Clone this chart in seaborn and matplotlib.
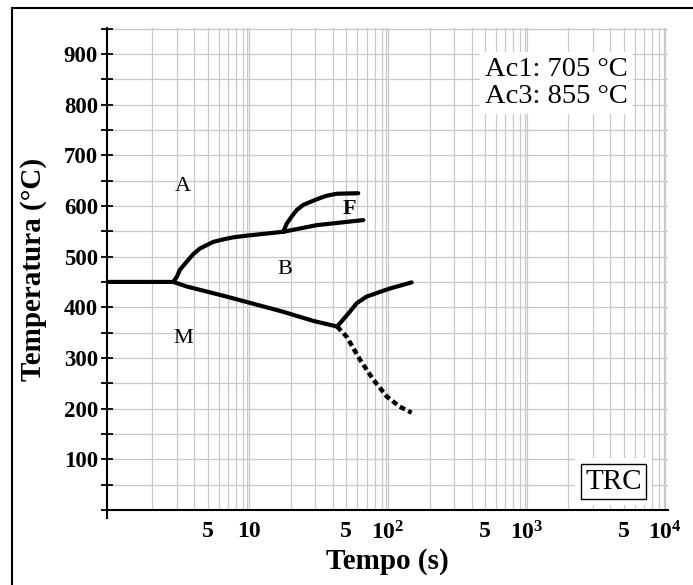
import numpy as np
import pandas as pd
import matplotlib
matplotlib.use("Agg")
import matplotlib.pyplot as plt
from matplotlib.ticker import FixedLocator, FixedFormatter, MultipleLocator, NullFormatter
from matplotlib.patches import Rectangle
import seaborn as sns

# ---------------- data ----------------
# bainite start (from the 450 plateau up to the ferrite split)
bs_t = [0.95, 2.83, 3.0, 3.16, 3.54, 3.95, 4.41, 5.5, 6.5, 7.67, 10.1, 11.9, 17.6]
bs_T = [450, 450, 460, 474, 490, 505, 516, 529, 534, 538, 542, 544, 549]
# ferrite lower branch
fl_t = [17.6, 30.6, 45.0, 66.4]
fl_T = [549, 562, 567, 572]
# ferrite upper branch
fu_t = [17.6, 18.6, 20.2, 22.0, 24.5, 30.6, 36.1, 42.7, 61.0]
fu_T = [549, 565, 579, 592, 602, 613, 620, 624, 625]
# lower (bainite / martensite boundary)
bm_t = [2.83, 3.54, 6.87, 10.0, 17.6, 29.0, 43.0]
bm_T = [450, 441, 421, 409, 391, 373, 362]
# upper branch after split
ub_t = [43.0, 53.0, 59.5, 70.0, 82.8, 103.0, 148.0]
ub_T = [362, 391, 408, 421, 428, 437, 449]
# dashed branch
dm_t = [43.0, 50.3, 63.0, 78.5, 98.0, 121.0, 148.0]
dm_T = [362, 342, 296, 257, 224, 204, 192]

phase_labels = ["A", "B", "M", "F"]
phase_t = [3.33, 18.1, 3.34, 52.4]
phase_T = [638, 474, 339, 594]

xtick_vals = [5, 10, 50, 100, 500, 1000, 5000, 10000]
xtick_labels = ["5", "10", "5", r"$\mathbf{10^2}$", "5", r"$\mathbf{10^3}$", "5", r"$\mathbf{10^4}$"]
ytick_vals = [100, 200, 300, 400, 500, 600, 700, 800, 900]

ac_text = "Ac1: 705 °C\nAc3: 855 °C"
diagram_tag = "TRC"

# ---------------- styling ----------------
sns.set_theme(style="white")
plt.rcParams["font.family"] = ["Liberation Serif", "DejaVu Serif"]
plt.rcParams["mathtext.fontset"] = "custom"
plt.rcParams["mathtext.rm"] = "Liberation Serif"
plt.rcParams["mathtext.bf"] = "Liberation Serif:bold"
plt.rcParams["mathtext.it"] = "Liberation Serif:italic"

fig = plt.figure(figsize=(6.93, 5.85), dpi=100)
ax = fig.add_axes([107 / 693, 1 - 510 / 585, (668 - 107) / 693, (510 - 28) / 585])

solid = pd.concat([
    pd.DataFrame({"t": bs_t, "T": bs_T, "curve": "bs"}),
    pd.DataFrame({"t": fl_t, "T": fl_T, "curve": "fl"}),
    pd.DataFrame({"t": fu_t, "T": fu_T, "curve": "fu"}),
    pd.DataFrame({"t": bm_t, "T": bm_T, "curve": "bm"}),
    pd.DataFrame({"t": ub_t, "T": ub_T, "curve": "ub"}),
], ignore_index=True)
dashed = pd.DataFrame({"t": dm_t, "T": dm_T})

sns.lineplot(data=solid, x="t", y="T", units="curve", estimator=None, sort=False,
             color="black", lw=3.0, ax=ax, zorder=3, legend=False,
             solid_joinstyle="round")
sns.lineplot(data=dashed, x="t", y="T", estimator=None, sort=False,
             color="black", lw=3.2, linestyle=(0, (1.3, 0.8)), ax=ax, zorder=3, legend=False)

ax.set_xscale("log")
ax.set_xlim(0.942, 10440)
ax.set_ylim(0, 951)

# x ticks / grid
ax.xaxis.set_major_locator(FixedLocator(xtick_vals))
ax.xaxis.set_major_formatter(FixedFormatter(xtick_labels))
minor_x = []
for n in range(0, 4):
    for m in [0.97, 2, 3, 4, 6, 7, 8, 9]:
        if n == 0 and m < 1:
            continue
        minor_x.append(m * 10 ** n)
minor_x.append(0.97e4)
ax.xaxis.set_minor_locator(FixedLocator(minor_x))
ax.xaxis.set_minor_formatter(NullFormatter())
ax.tick_params(axis="x", which="both", length=0, pad=8, labelsize=17, colors="black")

# y ticks
ax.yaxis.set_major_locator(FixedLocator(ytick_vals))
ax.yaxis.set_minor_locator(MultipleLocator(50))
ax.tick_params(axis="y", which="major", direction="inout", length=9, width=1.3,
               pad=2, labelsize=16.5, colors="black", left=True)
ax.tick_params(axis="y", which="minor", direction="inout", length=8, width=1.3,
               colors="black", left=True)

for lab in ax.get_xticklabels() + ax.get_yticklabels():
    lab.set_fontweight("bold")

ax.grid(which="both", color="#c8c8c8", lw=0.9)
ax.set_axisbelow(True)

for s in ["top", "right"]:
    ax.spines[s].set_visible(False)
for s in ["left", "bottom"]:
    ax.spines[s].set_color("black")
    ax.spines[s].set_linewidth(1.5)
ax.spines["left"].set_bounds(-16, 951)

ax.set_xlabel("Tempo (s)", fontsize=21, fontweight="bold", labelpad=3, color="black")
ax.set_ylabel("Temperatura (°C)", fontsize=21, fontweight="bold", labelpad=12, color="black")

# phase labels
for lab, tt, TT in zip(phase_labels, phase_t, phase_T):
    ax.text(tt, TT, lab, fontsize=16, ha="center", va="center",
            fontweight="bold" if lab == "F" else "normal", color="black", zorder=4)

# Ac text box
ax.text(500, 842, ac_text, fontsize=20.5, ha="left", va="center", linespacing=1.1,
        color="black", zorder=5,
        bbox=dict(boxstyle="square,pad=0.18", fc="white", ec="none"))

# TRC tag
ax.text(4227, 56, diagram_tag, fontsize=21, ha="center", va="center", color="white", zorder=5,
        bbox=dict(boxstyle="square,pad=0.35", fc="white", ec="none"))
ax.text(4227, 56, diagram_tag, fontsize=21, ha="center", va="center", color="black", zorder=6,
        bbox=dict(boxstyle="square,pad=0.15", fc="white", ec="black", lw=1.0))

# outer frame
fig.add_artist(Rectangle((12 / 693, -0.05), 1.0, 1 - 8 / 585 + 0.05, fill=False,
                         ec="black", lw=1.5, transform=fig.transFigure))

fig.savefig("out.png", dpi=100)
